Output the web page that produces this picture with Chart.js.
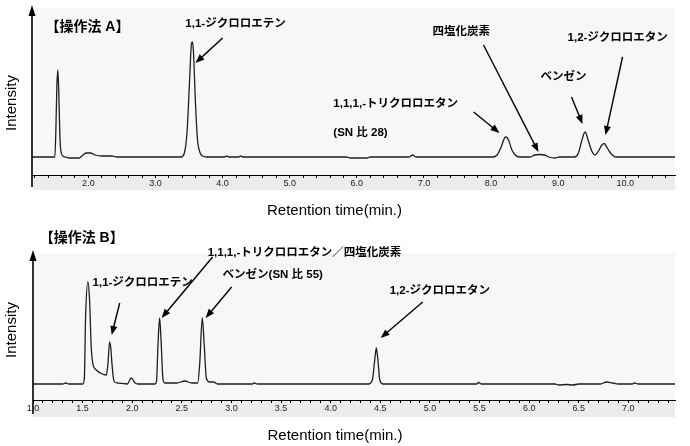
<!DOCTYPE html>
<html>
<head>
<meta charset="utf-8">
<script src="https://cdn.jsdelivr.net/npm/chart.js@4.4.1/dist/chart.umd.min.js"></script>
<style>
body{margin:0;background:#fff;width:690px;height:446px;overflow:hidden;}
.box{position:absolute;left:0;width:690px;}
#boxA{top:0;height:222px;}
#boxB{top:222px;height:224px;}
</style>
</head>
<body>
<div class="box" id="boxA"><canvas id="chartA" width="690" height="222"></canvas></div>
<div class="box" id="boxB"><canvas id="chartB" width="690" height="224"></canvas></div>
<script>
// 操作法 A : retention time (min) / intensity (arbitrary)
const timeA=[1.16,1.40,1.50,1.515,1.53,1.545,1.56,1.575,1.59,1.62,1.66,1.72,1.86,1.92,1.97,2.03,2.10,2.20,2.35,2.42,
  3.38,3.43,3.47,3.51,3.535,3.55,3.565,3.595,3.625,3.66,3.70,3.76,4.03,4.06,4.09,4.24,4.27,4.30,
  5.85,5.90,6.15,6.20,6.78,6.83,6.88,8.02,8.09,8.15,8.20,8.225,8.26,8.31,8.36,8.42,
  8.58,8.65,8.72,8.80,8.86,8.95,9.02,9.25,9.30,9.35,9.40,9.45,9.50,9.55,9.60,9.65,9.685,9.73,9.79,9.86,10.74];
const intensityA=[0,0,0,25,70,87,62,22,6,1,0,-1,-1,2,4,4,2,1,1,0,
  0,4,25,80,113,115,106,55,18,5,1,0,0,1,0,0,1,0,
  0,-1,-1,0,0,2,0,0,2,10,19,20,17,7,2,0,
  0,2,2.5,2,0,-1,0,0,4,16,25,16,6,2,6,12,13.5,9,3,0,0];

// 操作法 B
const timeB=[1.00,1.30,1.33,1.36,1.50,1.517,1.53,1.553,1.57,1.587,1.604,1.638,1.688,1.739,1.755,1.772,1.785,1.796,1.816,1.85,
  1.95,1.99,2.03,2.06,2.23,2.245,2.26,2.276,2.29,2.31,2.33,2.45,2.53,2.60,2.66,2.68,2.706,2.725,2.747,2.78,2.82,2.86,
  3.21,3.23,3.26,4.38,4.42,4.445,4.46,4.475,4.495,4.53,5.47,5.49,5.52,6.26,6.30,6.38,6.44,6.50,6.72,6.78,6.84,6.90,
  7.04,7.06,7.10,7.47];
const intensityB=[0,0,1,0,0,5,67,102,84,37,20,14,10.5,9,20,42,35,20,3,1,
  0,6,1,0,0,3,40,66,45,5,1,1,3,1,1,20,66,40,6,2,2,0,
  0,1,0,0,4,25,36,25,4,0,0,1.5,0,0,-1,-0.5,-1,0,0,2,1,0,
  0,1,0,0];

// tick settings
const stepA=0.2, majorA=1.0;
const stepB=0.1, majorB=0.5;

// annotations (data units)
const labelsA=[
  {text:'【操作法 A】',x:1.36,y:130,big:true},
  {text:'1,1-ジクロロエテン',x:3.445,y:133},
  {text:'1,1,1,-トリクロロエタン',x:5.65,y:53},
  {text:'(SN 比 28)',x:5.65,y:24},
  {text:'四塩化炭素',x:7.127,y:125},
  {text:'ベンゼン',x:8.736,y:80},
  {text:'1,2-ジクロロエタン',x:9.139,y:119}
];
const arrowsA=[[4.0,119,3.595,94],[7.74,45,8.125,24],[7.887,112,8.706,5],[9.198,60,9.362,33],[9.958,100,9.705,22]];
const labelsB=[
  {text:'【操作法 B】',x:1.067,y:146,big:true},
  {text:'1,1-ジクロロエテン',x:1.60,y:101},
  {text:'1,1,1,-トリクロロエタン／四塩化炭素',x:2.76,y:131},
  {text:'ベンゼン(SN 比 55)',x:2.911,y:109},
  {text:'1,2-ジクロロエタン',x:4.595,y:93}
];
const arrowsB=[[1.874,81,1.793,49],[2.81,127,2.296,66],[3.002,97,2.74,66],[4.927,82,4.504,46]];

const sans='"Liberation Sans", Arial, sans-serif';
const jp='"Liberation Sans", "Noto Sans CJK JP", sans-serif';

function drawArrow(ctx,x1,y1,x2,y2){
  const ang=Math.atan2(y2-y1,x2-x1), L=9, W=3.5;
  ctx.beginPath();
  ctx.moveTo(x1,y1);
  ctx.lineTo(x2-L*0.8*Math.cos(ang),y2-L*0.8*Math.sin(ang));
  ctx.stroke();
  ctx.beginPath();
  ctx.moveTo(x2,y2);
  ctx.lineTo(x2-L*Math.cos(ang)+W*Math.sin(ang),y2-L*Math.sin(ang)-W*Math.cos(ang));
  ctx.lineTo(x2-L*Math.cos(ang)-W*Math.sin(ang),y2-L*Math.sin(ang)+W*Math.cos(ang));
  ctx.closePath();
  ctx.fill();
}

const decoPlugin={
  id:'deco',
  beforeDraw(chart,args,opts){
    const {ctx,chartArea:a}=chart;
    ctx.save();
    ctx.fillStyle='#f7f7f7';
    ctx.fillRect(a.left,a.top,a.right-a.left,a.bottom-a.top);
    ctx.fillStyle='#ececec';
    ctx.fillRect(a.left,a.bottom,a.right-a.left,opts.band);
    ctx.restore();
  },
  afterDraw(chart,args,opts){
    const {ctx,chartArea:a,scales:{x,y}}=chart;
    ctx.save();
    ctx.strokeStyle='#000';
    ctx.fillStyle='#000';
    // y axis + arrow
    ctx.lineWidth=1.6;
    ctx.beginPath();
    ctx.moveTo(a.left,a.top+4);
    ctx.lineTo(a.left,a.bottom+opts.band-3);
    ctx.stroke();
    ctx.beginPath();
    ctx.moveTo(a.left,a.top-3);
    ctx.lineTo(a.left-3.5,a.top+8);
    ctx.lineTo(a.left+3.5,a.top+8);
    ctx.closePath();
    ctx.fill();
    // axis titles
    ctx.font='15px '+sans;
    ctx.textAlign='center';
    ctx.textBaseline='middle';
    ctx.fillText('Retention time(min.)',(a.left+a.right)/2-19,a.bottom+36);
    ctx.save();
    ctx.translate(12,y.getPixelForValue(54));
    ctx.rotate(-Math.PI/2);
    ctx.fillText('Intensity',0,0);
    ctx.restore();
    // labels
    ctx.textAlign='left';
    opts.labels.forEach(l=>{
      ctx.font=(l.big?'bold 14px ':'bold 11.5px ')+jp;
      ctx.fillText(l.text,x.getPixelForValue(l.x),y.getPixelForValue(l.y));
    });
    // arrows
    ctx.lineWidth=1.4;
    opts.arrows.forEach(r=>{
      drawArrow(ctx,x.getPixelForValue(r[0]),y.getPixelForValue(r[1]),x.getPixelForValue(r[2]),y.getPixelForValue(r[3]));
    });
    ctx.restore();
  }
};

function makeChart(id,times,values,cfg){
  return new Chart(document.getElementById(id),{
    type:'line',
    data:{datasets:[{
      data:times.map((t,i)=>({x:t,y:values[i]})),
      borderColor:'#1e1e1e',
      borderWidth:1.3,
      pointRadius:0,
      cubicInterpolationMode:'monotone',
      fill:false
    }]},
    options:{
      responsive:false,
      animation:false,
      devicePixelRatio:1,
      layout:{padding:{left:cfg.left,right:15,top:cfg.top,bottom:0}},
      plugins:{
        legend:{display:false},
        tooltip:{enabled:false},
        deco:{band:cfg.band,labels:cfg.labels,arrows:cfg.arrows}
      },
      scales:{
        x:{
          type:'linear',min:cfg.xmin,max:cfg.xmax,
          afterFit(s){s.height=cfg.axisH;},
          border:{display:true,color:'#000',width:1},
          grid:{drawOnChartArea:false,drawTicks:true,tickLength:3,color:'#000'},
          ticks:{
            stepSize:cfg.step,includeBounds:false,autoSkip:false,maxRotation:0,padding:0,
            color:'#222',font:{size:9,family:sans},
            callback:v=>Math.abs(v/cfg.major-Math.round(v/cfg.major))<1e-6?v.toFixed(1):''
          }
        },
        y:{display:false,min:cfg.ymin,max:cfg.ymax}
      }
    },
    plugins:[decoPlugin]
  });
}

makeChart('chartA',timeA,intensityA,{left:32,top:8,axisH:47,band:15,xmin:1.16,xmax:10.74,ymin:-18,ymax:149,
  step:stepA,major:majorA,labels:labelsA,arrows:arrowsA});
makeChart('chartB',timeB,intensityB,{left:33,top:31,axisH:46,band:17,xmin:1.0,xmax:7.47,ymin:-16,ymax:131,
  step:stepB,major:majorB,labels:labelsB,arrows:arrowsB});
</script>
</body>
</html>
